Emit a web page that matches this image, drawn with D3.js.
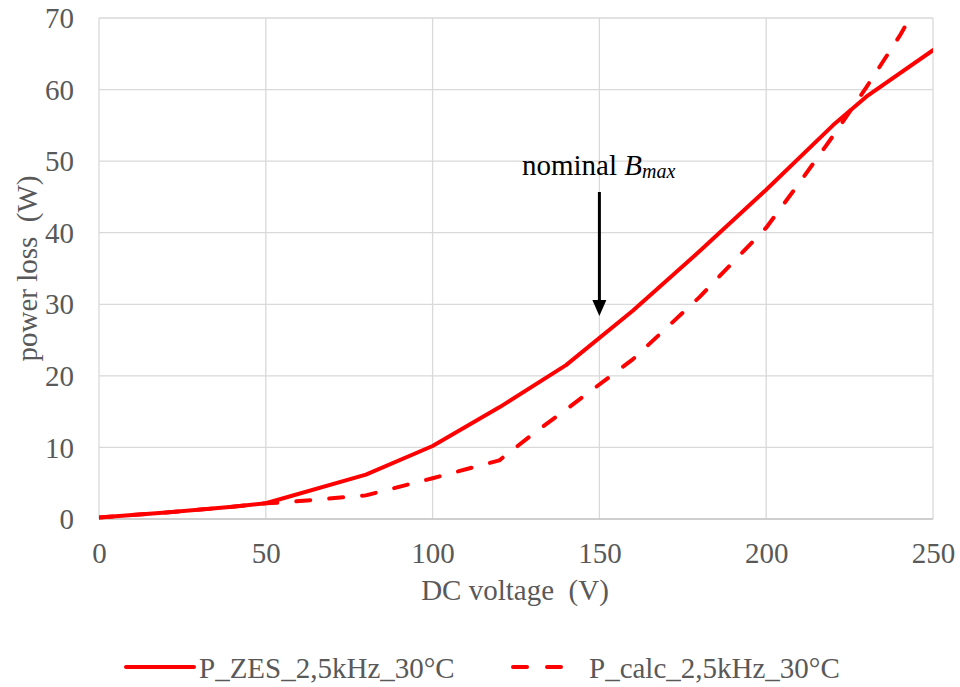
<!DOCTYPE html>
<html><head><meta charset="utf-8">
<script src="https://cdn.jsdelivr.net/npm/d3@7"></script>
</head><body>
<svg id="c" width="960" height="687"></svg>
<script>
const xTicks = [0, 50, 100, 150, 200, 250];
const yTicks = [0, 10, 20, 30, 40, 50, 60, 70];
const zesV = [0, 20, 40, 50, 80, 100, 120, 140, 160, 180, 200, 220, 230, 250];
const zesP = [0.2, 0.9, 1.7, 2.2, 6.2, 10.2, 15.6, 21.5, 29.1, 37.4, 46.0, 55.0, 59.0, 65.5];
const calcV = [0, 20, 40, 50, 55, 80, 100, 120, 131, 140, 160, 180, 200, 210, 220, 230, 240, 250];
const calcP = [0.2, 0.9, 1.7, 2.2, 2.3, 3.3, 5.7, 8.2, 12.2, 15.3, 22.3, 31.0, 40.7, 47.0, 53.5, 60.3, 67.5, 75.5];
const seriesNames = ["P_ZES_2,5kHz_30°C", "P_calc_2,5kHz_30°C"];
const annotationV = 150;

d3.select("body").style("margin", "0px");
const svg = d3.select("#c").style("display", "block");
const FONT = d => '"Liberation Serif"';
const m = {l: 99, r: 933, t: 18, b: 519};
const x = d3.scaleLinear().domain([0, 250]).range([m.l, m.r]);
const y = d3.scaleLinear().domain([0, 70]).range([m.b, m.t]);
const grey = "#595959";
const fs = 29;

// gridlines
svg.append("g").selectAll("line").data(yTicks).join("line")
  .attr("x1", m.l).attr("x2", m.r).attr("y1", d => y(d)).attr("y2", d => y(d))
  .attr("stroke", "#d9d9d9").attr("stroke-width", 1.3);
svg.append("g").selectAll("line").data(xTicks).join("line")
  .attr("y1", m.t).attr("y2", m.b).attr("x1", d => x(d)).attr("x2", d => x(d))
  .attr("stroke", "#d9d9d9").attr("stroke-width", 1.3);
svg.append("line").attr("x1", m.l).attr("x2", m.r).attr("y1", m.b).attr("y2", m.b)
  .attr("stroke", "#c8c8c8").attr("stroke-width", 1.3);

// axes
const xAxis = svg.append("g").attr("transform", `translate(0,${m.b})`)
  .call(d3.axisBottom(x).tickValues(xTicks).tickSize(0).tickPadding(23).tickFormat(d3.format("d")));
const yAxis = svg.append("g").attr("transform", `translate(${m.l},0)`)
  .call(d3.axisLeft(y).tickValues(yTicks).tickSize(0).tickPadding(25).tickFormat(d3.format("d")));
[xAxis, yAxis].forEach(a => {
  a.select(".domain").remove();
  a.attr("font-family", null).attr("font-size", null);
  a.selectAll("text").style("font-family", FONT).attr("font-size", fs).attr("fill", grey);
});
yAxis.selectAll("text").attr("dy", "0.33em");

// axis titles
svg.append("text").attr("x", (m.l + m.r) / 2 - 1).attr("y", 600).attr("text-anchor", "middle")
  .style("font-family", FONT).attr("font-size", fs).attr("fill", grey)
  .style("white-space", "pre").text("DC voltage  (V)");
svg.append("text").attr("transform", `translate(37,${(m.t + m.b) / 2}) rotate(-90)`)
  .attr("text-anchor", "middle").style("font-family", FONT).attr("font-size", fs).attr("fill", grey)
  .style("white-space", "pre").text("power loss  (W)");

// clip
svg.append("clipPath").attr("id", "clip").append("rect")
  .attr("x", m.l).attr("y", m.t - 2).attr("width", m.r - m.l).attr("height", m.b - m.t + 6);

const line = d3.line().x(d => x(d[0])).y(d => y(d[1]));
const zes = zesV.map((v, i) => [v, zesP[i]]);
const calc = calcV.map((v, i) => [v, calcP[i]]);
const g = svg.append("g").attr("clip-path", "url(#clip)");
g.append("path").datum(calc).attr("d", line).attr("fill", "none").attr("stroke", "#ff0000")
  .attr("stroke-width", 4).attr("stroke-dasharray", "14,19").attr("stroke-linecap", "round")
  .attr("stroke-linejoin", "round");
g.append("path").datum(zes).attr("d", line).attr("fill", "none").attr("stroke", "#ff0000")
  .attr("stroke-width", 4).attr("stroke-linejoin", "round").attr("stroke-linecap", "round");

// annotation
const ax = x(annotationV);
svg.append("line").attr("x1", ax).attr("x2", ax).attr("y1", 192).attr("y2", 302)
  .attr("stroke", "#000").attr("stroke-width", 3);
svg.append("path").attr("d", `M${ax - 7},${300} L${ax + 7},${300} L${ax},${316} Z`).attr("fill", "#000");
const ann = svg.append("text").attr("x", 522).attr("y", 175)
  .style("font-family", FONT).attr("font-size", fs).attr("fill", "#000");
ann.append("tspan").text("nominal ");
ann.append("tspan").style("font-style", "italic").text("B");
ann.append("tspan").style("font-style", "italic").attr("font-size", 20).attr("dy", 3).text("max");

// legend
const ly = 667;
svg.append("line").attr("x1", 126).attr("x2", 194).attr("y1", ly).attr("y2", ly)
  .attr("stroke", "#ff0000").attr("stroke-width", 4).attr("stroke-linecap", "round");
svg.append("text").attr("x", 199).attr("y", 678).style("font-family", FONT).attr("font-size", fs)
  .attr("fill", grey).text(seriesNames[0]);
svg.append("line").attr("x1", 513).attr("x2", 561).attr("y1", ly).attr("y2", ly)
  .attr("stroke", "#ff0000").attr("stroke-width", 4).attr("stroke-linecap", "round")
  .attr("stroke-dasharray", "14,20");
svg.append("text").attr("x", 589).attr("y", 678).style("font-family", FONT).attr("font-size", fs)
  .attr("fill", grey).text(seriesNames[1]);
</script>
</body></html>
